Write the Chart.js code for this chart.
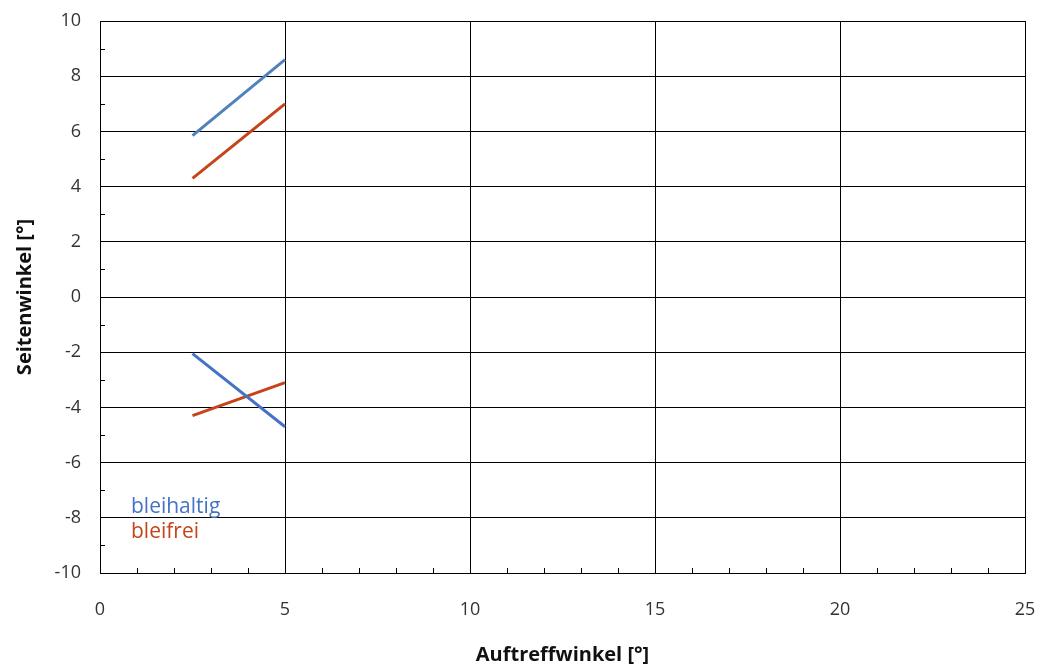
<!DOCTYPE html>
<html>
<head>
<meta charset="utf-8">
<script src="https://cdn.jsdelivr.net/npm/chart.js@4"></script>
<style>
  html, body { margin: 0; padding: 0; background: #fff; }
  #wrap { width: 1047px; height: 670px; }
</style>
</head>
<body>
<div id="wrap"><canvas id="myChart" width="1047" height="670"></canvas></div>
<script>
// Auftreffwinkel values
const auftreffwinkel = [2.5, 5];
// Seitenwinkel series
const bleihaltigOben = [5.85, 8.6];
const bleifreiOben = [4.3, 7.0];
const bleihaltigUnten = [-2.05, -4.7];
const bleifreiUnten = [-4.3, -3.1];

const xTicks = [0, 5, 10, 15, 20, 25];
const yTicks = [-10, -8, -6, -4, -2, 0, 2, 4, 6, 8, 10];

function pts(ys) {
    return auftreffwinkel.map((x, i) => ({ x: x, y: ys[i] }));
}

function line(label, ys, color) {
    return {
        label: label,
        data: pts(ys),
        showLine: true,
        borderColor: color,
        backgroundColor: color,
        borderWidth: 3,
        pointRadius: 0,
        fill: false
    };
}

const fontFamily = "'Open Sans', 'Noto Sans', sans-serif";

// Minor tick marks (inside the plot) and the text legend
const extras = {
    id: 'extras',
    afterDraw(chart) {
        const c = chart.ctx;
        const xs = chart.scales.x, ys = chart.scales.y;
        const area = chart.chartArea;
        c.save();
        c.strokeStyle = '#000';
        c.lineWidth = 1;
        c.beginPath();
        for (let v = 1; v < 25; v++) {
            if (v % 5 === 0) continue;
            const px = Math.round(xs.getPixelForValue(v)) + 0.5;
            c.moveTo(px, area.bottom);
            c.lineTo(px, area.bottom - 5);
        }
        for (let v = -9; v < 10; v += 2) {
            const py = Math.round(ys.getPixelForValue(v)) + 0.5;
            c.moveTo(area.left, py);
            c.lineTo(area.left + 5, py);
        }
        c.stroke();

        c.font = "21px " + fontFamily;
        c.textBaseline = 'middle';
        c.textAlign = 'left';
        c.fillStyle = '#4472C4';
        c.fillText('bleihaltig', area.left + 31, ys.getPixelForValue(-7.6));
        c.fillStyle = '#C5441A';
        c.fillText('bleifrei', area.left + 31, ys.getPixelForValue(-8.5));
        c.restore();
    }
};

const ctx = document.getElementById('myChart').getContext('2d');
const myChart = new Chart(ctx, {
    type: 'scatter',
    data: {
        datasets: [
            line('bleihaltig', bleihaltigOben, '#4F81BD'),
            line('bleifrei', bleifreiOben, '#C5441A'),
            line('bleihaltig', bleihaltigUnten, '#4472C4'),
            line('bleifrei', bleifreiUnten, '#C5441A')
        ]
    },
    options: {
        responsive: false,
        animation: false,
        layout: { padding: { top: 21, right: 22, left: 0, bottom: 0 } },
        plugins: {
            legend: { display: false },
            tooltip: { enabled: false }
        },
        scales: {
            x: {
                type: 'linear',
                min: 0,
                max: 25,
                afterBuildTicks: (s) => { s.ticks = xTicks.map(v => ({ value: v })); },
                afterFit: (s) => { s.height = 97; s.paddingLeft = 0; s.paddingRight = 0; },
                ticks: {
                    padding: 26,
                    color: '#333',
                    font: { family: fontFamily, size: 18 }
                },
                grid: { color: '#000', lineWidth: 1, drawTicks: false },
                border: { color: '#000', width: 1 },
                title: {
                    display: true,
                    text: 'Auftreffwinkel [°]',
                    color: '#111',
                    font: { family: fontFamily, size: 20, weight: 'bold' },
                    padding: { top: 0, bottom: 3 }
                }
            },
            y: {
                type: 'linear',
                min: -10,
                max: 10,
                afterBuildTicks: (s) => { s.ticks = yTicks.map(v => ({ value: v })); },
                afterFit: (s) => { s.width = 100; s.paddingTop = 0; s.paddingBottom = 0; },
                ticks: {
                    padding: 19,
                    color: '#333',
                    font: { family: fontFamily, size: 18 }
                },
                grid: { color: '#000', lineWidth: 1, drawTicks: false },
                border: { color: '#000', width: 1 },
                title: {
                    display: true,
                    text: 'Seitenwinkel [°]',
                    color: '#111',
                    font: { family: fontFamily, size: 20, weight: 'bold' },
                    padding: { top: 13, bottom: 0 }
                }
            }
        }
    },
    plugins: [extras]
});
</script>
</body>
</html>
